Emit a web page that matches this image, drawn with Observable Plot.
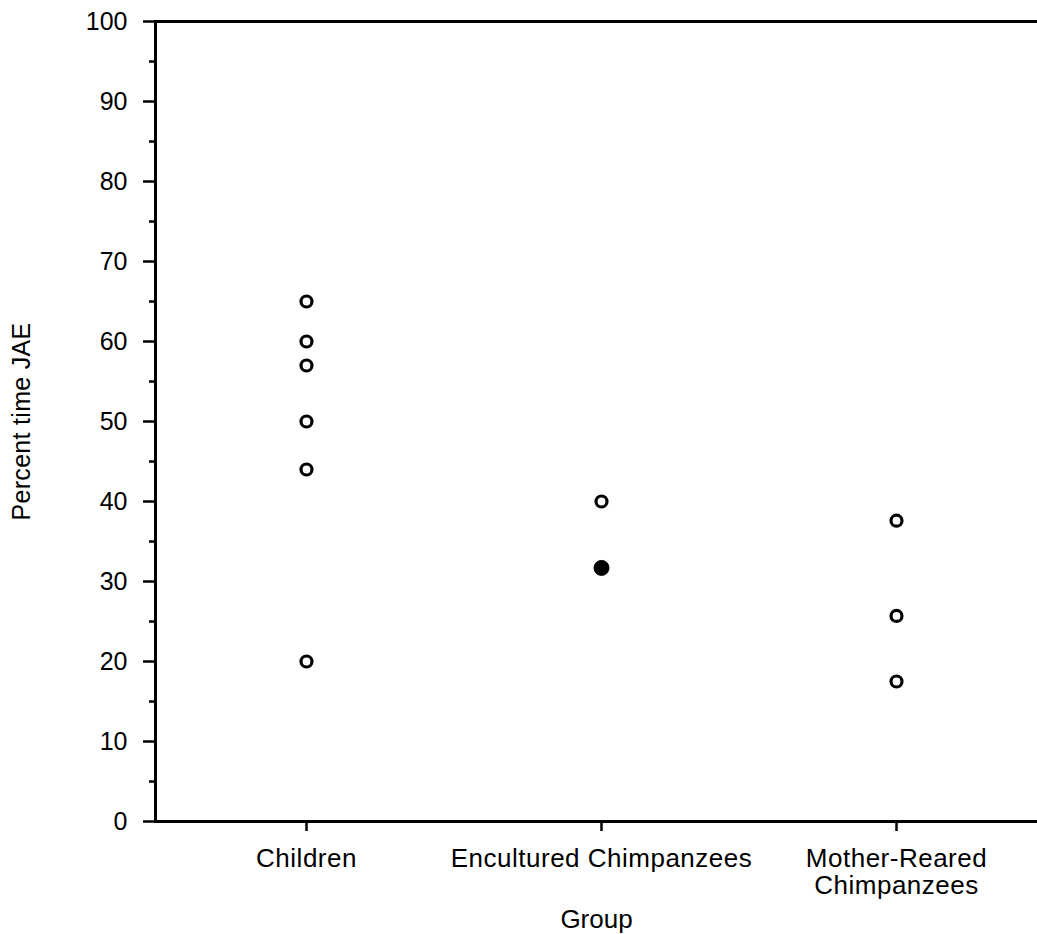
<!DOCTYPE html>
<html><head><meta charset="utf-8">
<script src="https://cdn.jsdelivr.net/npm/d3@7"></script>
<script src="https://cdn.jsdelivr.net/npm/@observablehq/plot@0.6"></script>
<style>
body{margin:0;background:#fff}
g[aria-label="x-axis tick label"] text{letter-spacing:0.5px}
g[aria-label="y-axis label"] text{letter-spacing:0.3px}
</style>
</head><body><div id="chart"></div>
<script>
const groups = ["Children", "Encultured Chimpanzees", "Mother-Reared\nChimpanzees"];
const pointGroup = [0, 0, 0, 0, 0, 0, 1, 1, 2, 2, 2];
const pointValue = [65, 60, 57, 50, 44, 20, 40, 31.7, 37.6, 25.7, 17.5];
const pointFilled = [false, false, false, false, false, false, false, true, false, false, false];
const majorTicks = [0, 10, 20, 30, 40, 50, 60, 70, 80, 90, 100];
const minorTicks = [5, 15, 25, 35, 45, 55, 65, 75, 85, 95];
const yLabel = "Percent time JAE";
const xLabel = "Group";

const points = pointValue.map((v, i) => ({group: groups[pointGroup[i]], value: v, filled: pointFilled[i]}));

const chart = Plot.plot({
  width: 1037,
  height: 934,
  marginLeft: 155,
  marginRight: 0,
  marginTop: 21,
  marginBottom: 113,
  style: {fontFamily: "'Liberation Sans', Arial, Helvetica, sans-serif", background: "#fff", color: "#000"},
  x: {type: "point", domain: groups, padding: 0.473, insetLeft: 10},
  y: {domain: [0, 100]},
  marks: [
    Plot.ruleY([0, 100], {strokeWidth: 3}),
    Plot.frame({anchor: "left", strokeWidth: 3}),
    Plot.axisY(minorTicks, {tickSize: 6, strokeWidth: 2.5, tickFormat: () => "", label: null}),
    Plot.axisY(majorTicks, {tickSize: 12, strokeWidth: 2.5, tickPadding: 16, fontSize: 25,
      label: yLabel, labelAnchor: "center", labelArrow: "none", labelOffset: 143}),
    Plot.axisX({tickSize: 10, strokeWidth: 2.5, tickPadding: 16, fontSize: 26, lineHeight: 1.05,
      label: xLabel, labelAnchor: "center", labelArrow: "none", labelOffset: 106}),
    Plot.dot(points.filter(d => !d.filled), {x: "group", y: "value", r: 5.5,
      fill: "#fff", stroke: "#000", strokeWidth: 3.2}),
    Plot.dot(points.filter(d => d.filled), {x: "group", y: "value", r: 7.5,
      fill: "#000", stroke: "#000", strokeWidth: 1})
  ]
});
document.getElementById("chart").appendChild(chart);
</script>
</body></html>
